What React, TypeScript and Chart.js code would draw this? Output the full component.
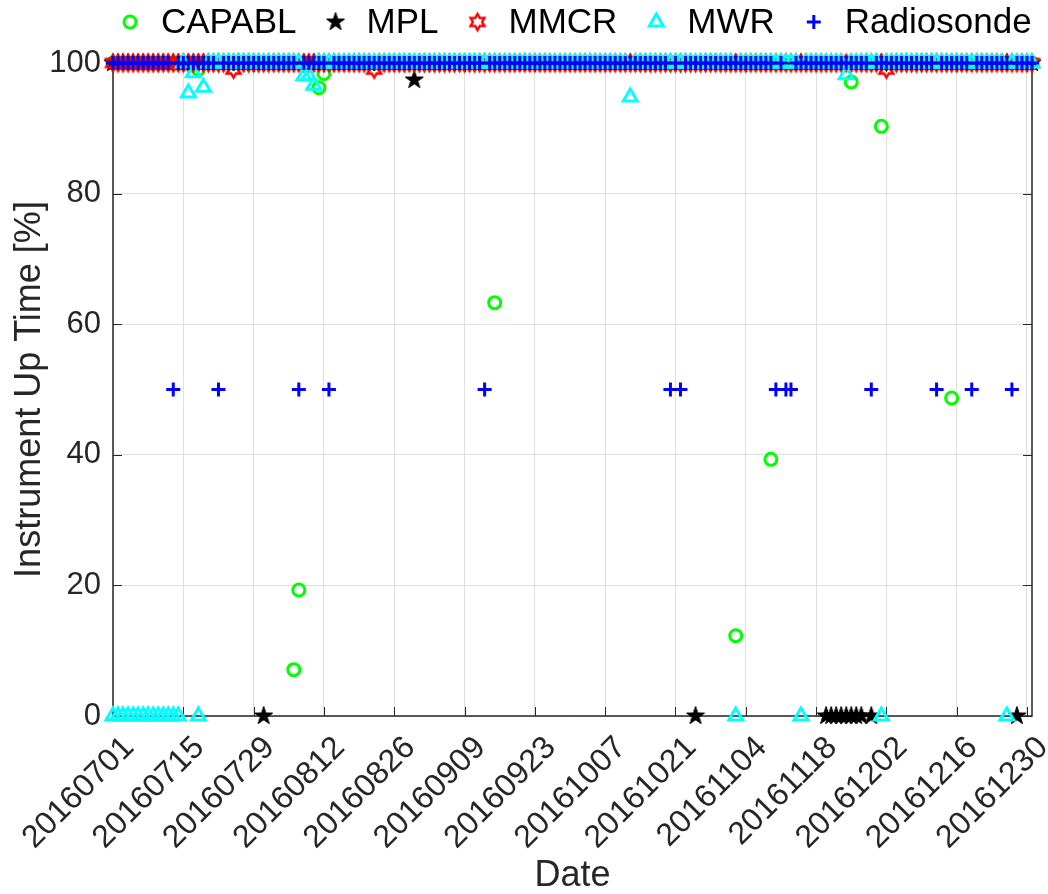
import React, { useEffect, useRef } from "react";
import { Chart, registerables } from "chart.js";

Chart.register(...registerables);

const FONT = '"Liberation Sans", Arial, Helvetica, sans-serif';
const INK = "#262626";
const GRID = "#dfdfdf";

// Day index 0 = 2016-07-01, the axis runs through 2016-12-31 (day 183)
const firstDay = 0;
const lastDay = 183;
const tickDays = [0, 14, 28, 42, 56, 70, 84, 98, 112, 126, 140, 154, 168, 182];
const tickLabels = [
  "20160701", "20160715", "20160729", "20160812", "20160826", "20160909", "20160923",
  "20161007", "20161021", "20161104", "20161118", "20161202", "20161216", "20161230",
];
const yTicks = [0, 20, 40, 60, 80, 100];

// Daily up time [%], Jul 1 .. Dec 31 (one line group per month)
const capabl = [
  // Jul
  100, 100, 100, 100, 100, 100, 100, 100, 100, 100,
  100, 100, 100, 100, 100, 100, 100, 99, 100, 100,
  100, 100, 100, 100, 100, 100, 100, 100, 100, 100,
  100,
  // Aug
  100, 100, 100, 100, 100, 7.1, 19.3, 100, 100, 100,
  96.2, 98.4, 100, 100, 100, 100, 100, 100, 100, 100,
  100, 100, 100, 100, 100, 100, 100, 100, 100, 100,
  100,
  // Sep
  100, 100, 100, 100, 100, 100, 100, 100, 100, 100,
  100, 100, 100, 100, 63.3, 100, 100, 100, 100, 100,
  100, 100, 100, 100, 100, 100, 100, 100, 100, 100,
  // Oct
  100, 100, 100, 100, 100, 100, 100, 100, 100, 100,
  100, 100, 100, 100, 100, 100, 100, 100, 100, 100,
  100, 100, 100, 100, 100, 100, 100, 100, 100, 100,
  100,
  // Nov
  100, 12.3, 100, 100, 100, 100, 100, 100, 39.3, 100,
  100, 100, 100, 100, 100, 100, 100, 100, 100, 100,
  100, 100, 100, 100, 97.1, 100, 100, 100, 100, 100,
  // Dec
  90.3, 100, 100, 100, 100, 100, 100, 100, 100, 100,
  100, 100, 100, 100, 48.7, 100, 100, 100, 100, 100,
  100, 100, 100, 100, 100, 100, 100, 100, 100, 100,
  100,
];

const mpl = [
  // Jul
  100, 100, 100, 100, 100, 100, 100, 100, 100, 100,
  100, 100, 100, 100, 100, 100, 100, 100, 100, 100,
  100, 100, 100, 100, 100, 100, 100, 100, 100, 100,
  0,
  // Aug
  100, 100, 100, 100, 100, 100, 100, 100, 100, 100,
  100, 100, 100, 100, 100, 100, 100, 100, 100, 100,
  100, 100, 100, 100, 100, 100, 100, 100, 100, 97.4,
  100,
  // Sep
  100, 100, 100, 100, 100, 100, 100, 100, 100, 100,
  100, 100, 100, 100, 100, 100, 100, 100, 100, 100,
  100, 100, 100, 100, 100, 100, 100, 100, 100, 100,
  // Oct
  100, 100, 100, 100, 100, 100, 100, 100, 100, 100,
  100, 100, 100, 100, 100, 100, 100, 100, 100, 100,
  100, 100, 100, 100, 0, 100, 100, 100, 100, 100,
  100,
  // Nov
  100, 100, 100, 100, 100, 100, 100, 100, 100, 100,
  100, 100, 100, 100, 100, 100, 100, 100, 100, 0,
  0, 0, 0, 0, 0, 0, 0, 100, 0, 100,
  // Dec
  100, 100, 100, 100, 100, 100, 100, 100, 100, 100,
  100, 100, 100, 100, 100, 100, 100, 100, 100, 100,
  100, 100, 100, 100, 100, 100, 100, 0, 100, 100,
  100,
];

const mmcr = [
  // Jul
  100, 100, 100, 100, 100, 100, 100, 100, 100, 100,
  100, 100, 100, 100, 100, 100, 100, 100, 100, 100,
  100, 100, 100, 100, 99, 100, 100, 100, 100, 100,
  100,
  // Aug
  100, 100, 100, 100, 100, 100, 100, 100, 100, 100,
  100, 100, 100, 100, 100, 100, 100, 100, 100, 100,
  100, 99, 100, 100, 100, 100, 100, 100, 100, 100,
  100,
  // Sep
  100, 100, 100, 100, 100, 100, 100, 100, 100, 100,
  100, 100, 100, 100, 100, 100, 100, 100, 100, 100,
  100, 100, 100, 100, 100, 100, 100, 100, 100, 100,
  // Oct
  100, 100, 100, 100, 100, 100, 100, 100, 100, 100,
  100, 100, 100, 100, 100, 100, 100, 100, 100, 100,
  100, 100, 100, 100, 100, 100, 100, 100, 100, 100,
  100,
  // Nov
  100, 100, 100, 100, 100, 100, 100, 100, 100, 100,
  100, 100, 100, 100, 100, 100, 100, 100, 100, 100,
  100, 100, 100, 100, 100, 100, 100, 100, 100, 100,
  // Dec
  100, 99, 100, 100, 100, 100, 100, 100, 100, 100,
  100, 100, 100, 100, 100, 100, 100, 100, 100, 100,
  100, 100, 100, 100, 100, 100, 100, 100, 100, 100,
  100,
];

const mwr = [
  // Jul
  0, 0, 0, 0, 0, 0, 0, 0, 0, 0,
  0, 0, 0, 0, 100, 95.4, 98.5, 0, 96.3, 100,
  100, 100, 100, 100, 100, 100, 100, 100, 100, 100,
  100,
  // Aug
  100, 100, 100, 100, 100, 100, 100, 98, 98, 96.6,
  100, 100, 100, 100, 100, 100, 100, 100, 100, 100,
  100, 100, 100, 100, 100, 100, 100, 100, 100, 100,
  100,
  // Sep
  100, 100, 100, 100, 100, 100, 100, 100, 100, 100,
  100, 100, 100, 100, 100, 100, 100, 100, 100, 100,
  100, 100, 100, 100, 100, 100, 100, 100, 100, 100,
  // Oct
  100, 100, 100, 100, 100, 100, 100, 100, 100, 100,
  100, 94.8, 100, 100, 100, 100, 100, 100, 100, 100,
  100, 100, 100, 100, 100, 100, 100, 100, 100, 100,
  100,
  // Nov
  100, 0, 100, 100, 100, 100, 100, 100, 100, 100,
  100, 100, 100, 100, 0, 100, 100, 100, 100, 100,
  100, 100, 100, 98.2, 100, 100, 100, 100, 100, 100,
  // Dec
  0, 100, 100, 100, 100, 100, 100, 100, 100, 100,
  100, 100, 100, 100, 100, 100, 100, 100, 100, 100,
  100, 100, 100, 100, 100, 0, 100, 100, 100, 100,
  100,
];

const radiosonde = [
  // Jul
  100, 100, 100, 100, 100, 100, 100, 100, 100, 100,
  100, 100, 50, 100, 100, 100, 100, 100, 100, 100,
  100, 50, 100, 100, 100, 100, 100, 100, 100, 100,
  100,
  // Aug
  100, 100, 100, 100, 100, 100, 50, 100, 100, 100,
  100, 100, 50, 100, 100, 100, 100, 100, 100, 100,
  100, 100, 100, 100, 100, 100, 100, 100, 100, 100,
  100,
  // Sep
  100, 100, 100, 100, 100, 100, 100, 100, 100, 100,
  100, 100, 50, 100, 100, 100, 100, 100, 100, 100,
  100, 100, 100, 100, 100, 100, 100, 100, 100, 100,
  // Oct
  100, 100, 100, 100, 100, 100, 100, 100, 100, 100,
  100, 100, 100, 100, 100, 100, 100, 100, 100, 50,
  100, 50, 100, 100, 100, 100, 100, 100, 100, 100,
  100,
  // Nov
  100, 100, 100, 100, 100, 100, 100, 100, 100, 50,
  100, 50, 50, 100, 100, 100, 100, 100, 100, 100,
  100, 100, 100, 100, 100, 100, 100, 100, 50, 100,
  // Dec
  100, 100, 100, 100, 100, 100, 100, 100, 100, 100,
  100, 50, 100, 100, 100, 100, 100, 100, 50, 100,
  100, 100, 100, 100, 100, 100, 50, 100, 100, 100,
  100,
];

// Star-shaped marker drawn once into a small canvas (used as a Chart.js pointStyle)
function starCanvas(points: number, outer: number, inner: number, color: string, filled: boolean, lw: number) {
  const size = Math.ceil(outer * 2 + lw + 4);
  const c = document.createElement("canvas");
  c.width = size;
  c.height = size;
  const ctx = c.getContext("2d")!;
  ctx.translate(size / 2, size / 2);
  ctx.beginPath();
  for (let i = 0; i < points * 2; i++) {
    const r = i % 2 === 0 ? outer : inner;
    const a = -Math.PI / 2 + (i * Math.PI) / points;
    const px = r * Math.cos(a);
    const py = r * Math.sin(a);
    if (i === 0) ctx.moveTo(px, py);
    else ctx.lineTo(px, py);
  }
  ctx.closePath();
  ctx.lineJoin = "miter";
  if (filled) {
    ctx.fillStyle = color;
    ctx.fill();
  }
  ctx.lineWidth = lw;
  ctx.strokeStyle = color;
  ctx.stroke();
  return c;
}

function drawMarker(ctx: CanvasRenderingContext2D, ds: any, x: number, y: number) {
  const style = ds.pointStyle;
  if (typeof style === "object") {
    ctx.drawImage(style, x - style.width / 2, y - style.height / 2);
    return;
  }
  const r = ds.pointRadius;
  ctx.save();
  ctx.strokeStyle = ds.borderColor;
  ctx.lineWidth = ds.borderWidth;
  ctx.beginPath();
  if (style === "circle") {
    ctx.arc(x, y, r, 0, Math.PI * 2);
  } else if (style === "triangle") {
    let rad = 0;
    ctx.moveTo(x + Math.sin(rad) * r, y - Math.cos(rad) * r);
    rad += (2 * Math.PI) / 3;
    ctx.lineTo(x + Math.sin(rad) * r, y - Math.cos(rad) * r);
    rad += (2 * Math.PI) / 3;
    ctx.lineTo(x + Math.sin(rad) * r, y - Math.cos(rad) * r);
    ctx.closePath();
  } else if (style === "cross") {
    ctx.moveTo(x - r, y);
    ctx.lineTo(x + r, y);
    ctx.moveTo(x, y - r);
    ctx.lineTo(x, y + r);
  }
  ctx.stroke();
  ctx.restore();
}

// Axes box with inward tick marks on all four sides
const axesBox = {
  id: "axesBox",
  beforeDatasetsDraw(chart: any) {
    const { ctx, chartArea } = chart;
    const { left, right, top, bottom } = chartArea;
    const xs = chart.scales.x;
    const ys = chart.scales.y;
    const len = 9;
    ctx.save();
    ctx.strokeStyle = INK;
    ctx.lineWidth = 1;
    ctx.beginPath();
    tickDays.forEach((d) => {
      const px = Math.round(xs.getPixelForValue(d)) + 0.5;
      ctx.moveTo(px, bottom);
      ctx.lineTo(px, bottom - len);
      ctx.moveTo(px, top);
      ctx.lineTo(px, top + len);
    });
    yTicks.forEach((v) => {
      const py = Math.round(ys.getPixelForValue(v)) + 0.5;
      ctx.moveTo(left, py);
      ctx.lineTo(left + len, py);
      ctx.moveTo(right, py);
      ctx.lineTo(right - len, py);
    });
    ctx.stroke();
    ctx.lineWidth = 1.5;
    ctx.strokeRect(left, top, right - left, bottom - top);
    ctx.restore();
  },
};

// Single-row legend above the axes
const topLegend = {
  id: "topLegend",
  afterDraw(chart: any) {
    const { ctx } = chart;
    const dsets = chart.data.datasets;
    ctx.save();
    ctx.font = `35px ${FONT}`;
    ctx.fillStyle = "#000";
    ctx.textBaseline = "middle";
    ctx.textAlign = "left";
    const cy = 22;
    let x = 130;
    dsets.forEach((ds: any) => {
      drawMarker(ctx, ds, x, cy);
      const tx = x + 31;
      ctx.fillText(ds.label, tx, cy + 1);
      x = tx + ctx.measureText(ds.label).width + 39;
    });
    ctx.restore();
  },
};

export default function App() {
  const ref = useRef<HTMLCanvasElement>(null);

  useEffect(() => {
    if (!ref.current) return;
    const pentagram = starCanvas(5, 9.5, 3.7, "#000000", true, 1);
    const hexagram = starCanvas(6, 8, 4.6, "#ff0000", false, 2.4);

    const specs = [
      { label: "CAPABL", values: capabl, pointStyle: "circle", pointRadius: 6, borderWidth: 3, color: "#00ff00", order: 4 },
      { label: "MPL", values: mpl, pointStyle: pentagram, pointRadius: 8, borderWidth: 1, color: "#000000", order: 3 },
      { label: "MMCR", values: mmcr, pointStyle: hexagram, pointRadius: 7, borderWidth: 1, color: "#ff0000", order: 2 },
      { label: "MWR", values: mwr, pointStyle: "triangle", pointRadius: 8, borderWidth: 3, color: "#00ffff", order: 1 },
      { label: "Radiosonde", values: radiosonde, pointStyle: "cross", pointRadius: 7, borderWidth: 3, color: "#0000ff", order: 0 },
    ];

    const datasets = specs.map((s) => ({
      label: s.label,
      data: s.values.map((v, i) => ({ x: firstDay + i, y: v })),
      pointStyle: s.pointStyle as any,
      pointRadius: s.pointRadius,
      borderWidth: s.borderWidth,
      pointBorderWidth: s.borderWidth,
      borderColor: s.color,
      pointBorderColor: s.color,
      backgroundColor: "rgba(0,0,0,0)",
      pointBackgroundColor: "rgba(0,0,0,0)",
      showLine: false,
      clip: false as any,
      order: s.order,
    }));

    const chart = new Chart(ref.current, {
      type: "scatter",
      data: { datasets },
      options: {
        animation: false,
        responsive: false,
        events: [],
        layout: { padding: { top: 63, right: 16, bottom: 0, left: 0 } },
        plugins: { legend: { display: false }, tooltip: { enabled: false } },
        scales: {
          x: {
            type: "linear",
            min: firstDay,
            max: lastDay,
            afterBuildTicks: (scale: any) => {
              scale.ticks = tickDays.map((v) => ({ value: v }));
            },
            afterFit: (scale: any) => {
              scale.height = 894 - 716;
              scale.paddingLeft = 0;
              scale.paddingRight = 0;
            },
            ticks: {
              autoSkip: false,
              minRotation: 45,
              maxRotation: 45,
              padding: 13,
              labelOffset: 16,
              color: INK,
              font: { family: FONT, size: 32 },
              callback: (value: any) => {
                const i = tickDays.indexOf(Number(value));
                return i >= 0 ? tickLabels[i] : "";
              },
            },
            grid: { color: GRID, lineWidth: 1, drawTicks: false },
            border: { display: false },
            title: {
              display: true,
              text: "Date",
              color: INK,
              font: { family: FONT, size: 36 },
              padding: { top: 0, bottom: -4 },
            },
          },
          y: {
            min: 0,
            max: 100,
            afterBuildTicks: (scale: any) => {
              scale.ticks = yTicks.map((v) => ({ value: v }));
            },
            afterFit: (scale: any) => {
              scale.width = 113;
            },
            ticks: {
              padding: 12,
              color: INK,
              font: { family: FONT, size: 31 },
            },
            grid: { color: GRID, lineWidth: 1, drawTicks: false },
            border: { display: false },
            title: {
              display: true,
              text: "Instrument Up Time [%]",
              color: INK,
              font: { family: FONT, size: 36 },
              padding: { top: 8, bottom: 0 },
            },
          },
        },
      },
      plugins: [axesBox, topLegend],
    });

    return () => chart.destroy();
  }, []);

  return (
    <div style={{ position: "fixed", left: 0, top: 0, width: 1048, height: 894, background: "#ffffff" }}>
      <canvas ref={ref} width={1048} height={894} style={{ display: "block", width: 1048, height: 894 }} />
    </div>
  );
}
